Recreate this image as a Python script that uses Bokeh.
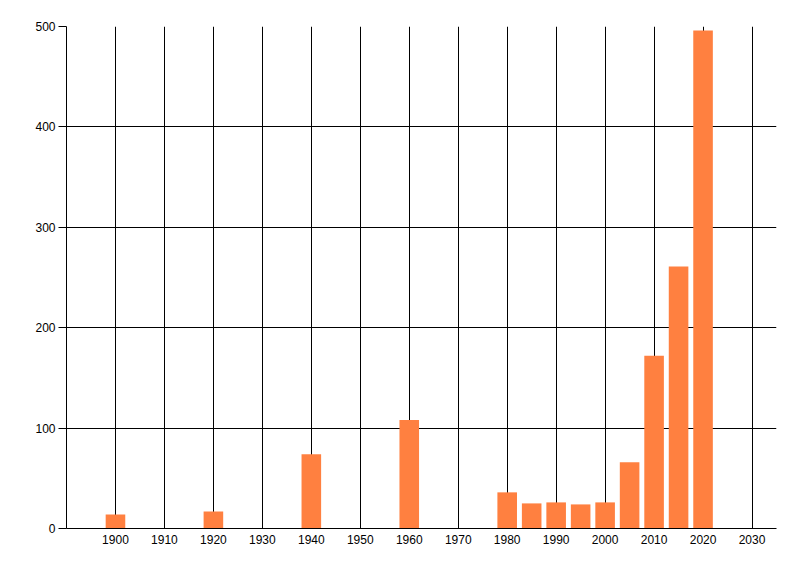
from bokeh.plotting import figure
from bokeh.models import Range1d, FixedTicker
from bokeh.embed import file_html
from bokeh.resources import INLINE

# Data
years = [1900, 1920, 1940, 1960, 1980, 1985, 1990, 1995, 2000, 2005, 2010, 2015, 2020]
counts = [14, 17, 74, 108, 36, 25, 26, 24, 26, 66, 172, 261, 496]
x_ticks = list(range(1900, 2031, 10))
y_ticks = [0, 100, 200, 300, 400, 500]

BAR_COLOR = "#ff8040"
FONT = "Liberation Sans"

p = figure(width=792, height=568, output_backend="svg", toolbar_location=None,
           x_range=Range1d(1890, 2035), y_range=Range1d(0, 500))
p.min_border_left = 66
p.min_border_right = 16
p.min_border_top = 26
p.min_border_bottom = 40
p.outline_line_color = None

p.vbar(x=years, top=counts, width=4, color=BAR_COLOR, line_color=None)

# Grid
p.xgrid.ticker = FixedTicker(ticks=x_ticks)
p.ygrid.ticker = FixedTicker(ticks=y_ticks)
for g in (p.xgrid, p.ygrid):
    g.grid_line_color = "black"
    g.grid_line_width = 1
    g.level = "underlay"

# Axes
p.xaxis.ticker = FixedTicker(ticks=x_ticks)
p.yaxis.ticker = FixedTicker(ticks=y_ticks)
for ax in (p.xaxis, p.yaxis):
    ax.axis_line_color = "black"
    ax.major_label_text_font = FONT
    ax.major_label_text_font_size = "12px"
    ax.major_label_text_color = "black"
    ax.minor_tick_line_color = None
    ax.major_tick_line_color = "black"
    ax.major_tick_in = 0
p.xaxis.major_tick_out = 0
p.xaxis.major_label_standoff = 6
p.yaxis.major_tick_out = 8
p.yaxis.major_label_standoff = 3

open("out.html", "w").write(file_html(p, INLINE))
